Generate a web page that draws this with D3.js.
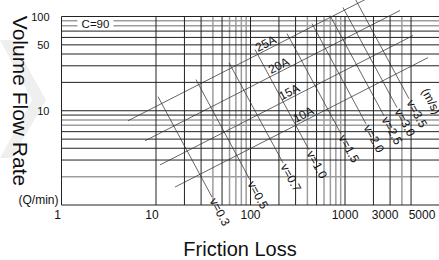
<!DOCTYPE html>
<html lang="en">
<head>
<meta charset="UTF-8" />
<title>Friction Loss Chart</title>
<script src="https://d3js.org/d3.v7.min.js"></script>
<style>
  body { margin: 0; background: #fff; font-family: "Liberation Sans", Arial, sans-serif; }
  svg { display: block; }
  .grid-dark { stroke: #222; stroke-width: 1; }
  .grid-light { stroke: #9d9d9d; stroke-width: 1.5; }
  .diag { stroke: #333; stroke-width: 0.75; fill: none; }
  text { fill: #111; }
</style>
</head>
<body>
<svg id="chart" width="439" height="260"></svg>
<script>
// grid values (friction loss on x, flow rate on y)
const lossGrid = [10, 20, 30, 40, 50, 60, 70, 80, 90, 100, 200, 300, 400, 500, 600, 700, 800, 900, 1000, 2000, 3000, 4000, 5000];
const flowGrid = [2, 3, 4, 5, 6, 7, 8, 9, 10, 20, 30, 40, 50, 60, 70, 80, 90, 100];
const lossTicks = [1, 10, 100, 1000, 3000, 5000];
const flowTicks = [10, 50, 100];

// pipe size lines: [loss, flow] end points
const pipeNames = ["25A", "20A", "15A", "10A"];
const pipeStart = [[5.05, 7.83], [7.65, 4.8], [11.0, 2.66], [15.9, 1.55]];
const pipeEnd = [[2994, 206.5], [3820, 115.8], [5243, 62.8], [7553, 36.6]];
const pipeLabelLoss = [155, 213, 275, 387];

// velocity lines (m/s): [loss, flow] end points
const velocities = ["0.3", "0.5", "0.7", "1.0", "1.5", "2.0", "2.5", "3.0", "3.5"];
const velStart = [[10.5, 14.1], [26.5, 21.4], [59.2, 32.4], [111.6, 44.6], [243.4, 65.9], [447.6, 84.2], [694, 102.5], [952, 124.6], [1276, 155.4]];
const velEnd = [[39.1, 1.216], [98.8, 1.845], [220.8, 2.8], [415.9, 3.85], [907.1, 5.69], [1668, 7.27], [2586, 8.85], [3550, 10.8], [4755, 13.4]];

const svg = d3.select("#chart");
const x = d3.scaleLog().domain([1, 10000]).range([61.5, 439.5]);
const y = d3.scaleLog().domain([1, 100]).range([205, 16.5]);

// faint chevron in the background
svg.append("path")
  .attr("d", "M0,40 L12,40 L46,100 L12,158 L0,158 L32,100 Z")
  .attr("fill", "#efefef");

const lightLoss = v => [4, 6, 7, 8, 9].includes(Math.round(v / Math.pow(10, Math.floor(Math.log10(v)))));
const lightFlow = new Set([2, 7, 8, 80, 90]);

const grid = svg.append("g");
// light lines first, dark lines on top
[true, false].forEach(light => {
  grid.selectAll(null)
    .data(flowGrid.filter(d => lightFlow.has(d) === light))
    .enter().append("line")
      .attr("class", light ? "grid-light" : "grid-dark")
      .attr("x1", x(1)).attr("x2", x(10000))
      .attr("y1", d => y(d)).attr("y2", d => y(d));
  grid.selectAll(null)
    .data(lossGrid.filter(d => lightLoss(d) === light))
    .enter().append("line")
      .attr("class", light ? "grid-light" : "grid-dark")
      .attr("x1", d => x(d)).attr("x2", d => x(d))
      .attr("y1", y(1)).attr("y2", y(100));
});

// frame
svg.append("line").attr("class", "grid-dark")
  .attr("x1", x(1)).attr("x2", x(1)).attr("y1", y(1)).attr("y2", y(100));
svg.append("line").attr("class", "grid-dark")
  .attr("x1", x(1)).attr("x2", x(10000)).attr("y1", y(1)).attr("y2", y(1));

// C=90 tag
svg.append("rect")
  .attr("x", x(1) + 16).attr("y", y(100) + 2)
  .attr("width", 36).attr("height", 11)
  .attr("fill", "#fff");
svg.append("text")
  .attr("x", x(1) + 34).attr("y", y(100) + 11.5)
  .attr("text-anchor", "middle")
  .style("font-size", "11.5px")
  .text("C=90");

const lines = svg.append("g");

// pipe lines
pipeNames.forEach((name, i) => {
  const [l0, q0] = pipeStart[i], [l1, q1] = pipeEnd[i];
  lines.append("line").attr("class", "diag")
    .attr("x1", x(l0)).attr("y1", y(q0))
    .attr("x2", x(l1)).attr("y2", y(q1));
  const t = (Math.log(pipeLabelLoss[i]) - Math.log(l0)) / (Math.log(l1) - Math.log(l0));
  const lx = x(pipeLabelLoss[i]);
  const ly = y(q0) + t * (y(q1) - y(q0));
  const ang = Math.atan2(y(q1) - y(q0), x(l1) - x(l0)) * 180 / Math.PI;
  lines.append("text")
    .attr("transform", `translate(${lx},${ly}) rotate(${ang})`)
    .attr("text-anchor", "middle")
    .attr("dy", -2)
    .style("font-size", "12px")
    .text(name);
});

// velocity lines
velocities.forEach((v, i) => {
  const [l0, q0] = velStart[i], [l1, q1] = velEnd[i];
  lines.append("line").attr("class", "diag")
    .attr("x1", x(l0)).attr("y1", y(q0))
    .attr("x2", x(l1)).attr("y2", y(q1));
  const ang = Math.atan2(y(q1) - y(q0), x(l1) - x(l0)) * 180 / Math.PI;
  lines.append("text")
    .attr("transform", `translate(${x(l1)},${y(q1)}) rotate(${ang})`)
    .attr("dx", 2)
    .attr("dy", "0.35em")
    .style("font-size", "12px")
    .text("v=" + v);
});

// unit label for the velocity lines
const angV = Math.atan2(y(velEnd[8][1]) - y(velStart[8][1]), x(velEnd[8][0]) - x(velStart[8][0])) * 180 / Math.PI;
svg.append("text")
  .attr("transform", `translate(${x(7000)},${y(17)}) rotate(${angV})`)
  .attr("dy", "0.35em")
  .style("font-size", "12px")
  .text("(m/s)");

// tick labels
svg.selectAll(".ytick")
  .data(flowTicks)
  .enter().append("text")
    .attr("class", "ytick")
    .attr("x", x(1) - 12)
    .attr("y", d => y(d) + 4)
    .attr("text-anchor", "end")
    .style("font-size", "11px")
    .text(d => d);

const shift = {1: -4, 10: -4, 3000: -5, 5000: 11};
svg.selectAll(".xtick")
  .data(lossTicks)
  .enter().append("text")
    .attr("class", "xtick")
    .attr("x", d => x(d) + (shift[d] || 0))
    .attr("y", 219)
    .attr("text-anchor", "middle")
    .style("font-size", "12px")
    .text(d => d);

svg.append("text")
  .attr("x", x(1) - 3).attr("y", 203.5)
  .attr("text-anchor", "end")
  .style("font-size", "12px")
  .text("(Q/min)");

// axis titles
svg.append("text")
  .attr("transform", "translate(12.5,101) rotate(90)")
  .attr("text-anchor", "middle")
  .style("font-size", "21px")
  .text("Volume Flow Rate");

svg.append("text")
  .attr("x", 240).attr("y", 255.5)
  .attr("text-anchor", "middle")
  .style("font-size", "20px")
  .text("Friction Loss");
</script>
</body>
</html>
